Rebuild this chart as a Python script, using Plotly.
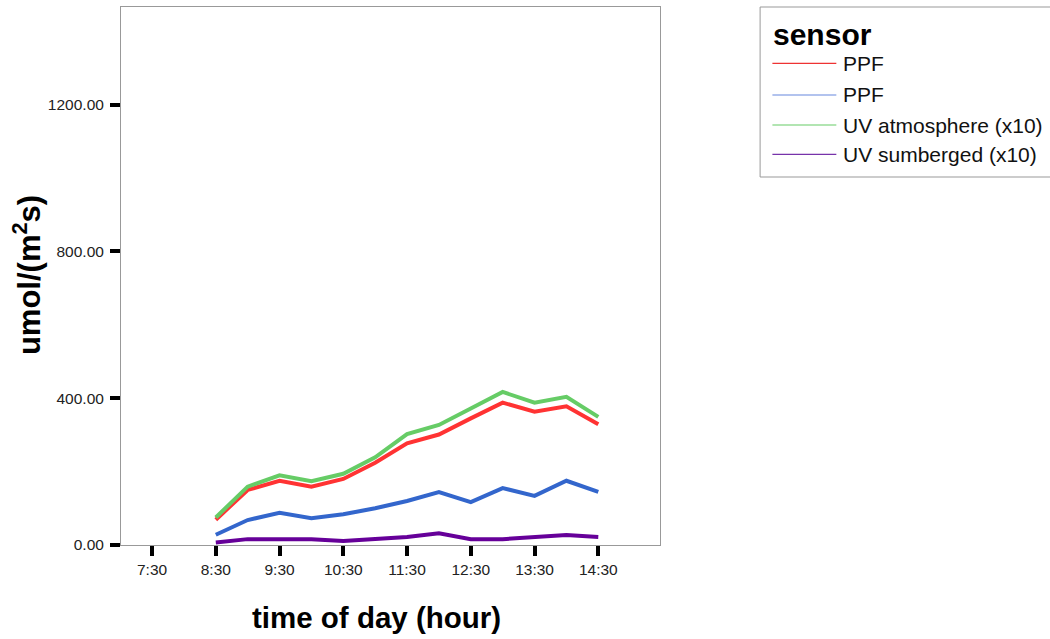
import plotly.graph_objects as go

# ---- data ----
times = ["8:30", "9:00", "9:30", "10:00", "10:30", "11:00", "11:30",
         "12:00", "12:30", "13:00", "13:30", "14:00", "14:30"]
ppf_atmosphere = [69, 150, 175, 159, 180, 224, 277, 301, 345, 388, 363, 378, 329]
ppf_submerged = [28, 68, 88, 73, 84, 100, 120, 144, 117, 155, 134, 175, 145]
uv_atmosphere = [75, 159, 190, 174, 194, 239, 302, 327, 372, 417, 388, 404, 349]
uv_submerged = [7, 16, 16, 16, 11, 16, 22, 32, 16, 16, 22, 27, 22]

series_names = ["PPF", "PPF", "UV atmosphere (x10)", "UV sumberged (x10)"]
series_values = [ppf_atmosphere, ppf_submerged, uv_atmosphere, uv_submerged]
series_colors = ["#ff3333", "#3366cc", "#66cc66", "#660099"]
legend_colors = ["#ee3333", "#6688dd", "#66cc66", "#7733aa"]

tick_hours = [7.5, 8.5, 9.5, 10.5, 11.5, 12.5, 13.5, 14.5]
tick_labels = ["7:30", "8:30", "9:30", "10:30", "11:30", "12:30", "13:30", "14:30"]
y_ticks = [0, 400, 800, 1200]


def to_hours(t):
    h, m = t.split(":")
    return int(h) + int(m) / 60.0


x_hours = [to_hours(t) for t in times]

FONT = "Liberation Sans, Arial, Helvetica, sans-serif"

fig = go.Figure()
for name, vals, col in zip(series_names, series_values, series_colors):
    fig.add_trace(go.Scatter(x=x_hours, y=vals, mode="lines", name=name,
                             line=dict(color=col, width=4), showlegend=False))

# plot-area pixel geometry (for manual legend placement)
L, R, T, B = 121, 660.5, 7, 545
W, H = R - L, B - T


def px(x):
    return (x - L) / W


def py(y):
    return (B - y) / H


shapes = [dict(type="rect", xref="paper", yref="paper",
               x0=px(760.7), x1=px(1070), y0=py(177), y1=py(7),
               line=dict(color="#999999", width=1), fillcolor="white", layer="above")]
annotations = [
    dict(text="<b>sensor</b>", xref="paper", yref="paper", x=px(772), y=py(35),
         xanchor="left", yanchor="middle", showarrow=False,
         font=dict(family=FONT, size=30, color="black")),
    dict(text="<b>time of day (hour)</b>", xref="paper", yref="paper",
         x=px(377), y=py(617), xanchor="center", yanchor="middle", showarrow=False,
         font=dict(family=FONT, size=29.5, color="black")),
    dict(text="<b>umol/(m<sup>2</sup>s)</b>", xref="paper", yref="paper",
         x=px(27), y=py(275), xanchor="center", yanchor="middle", showarrow=False,
         textangle=-90, font=dict(family=FONT, size=31, color="black")),
]
item_y = [63.3, 95, 125, 154.3]
for name, col, yy in zip(series_names, legend_colors, item_y):
    shapes.append(dict(type="line", xref="paper", yref="paper",
                       x0=px(773), x1=px(837), y0=py(yy), y1=py(yy),
                       line=dict(color=col, width=1.2), layer="above"))
    annotations.append(dict(text=name, xref="paper", yref="paper",
                            x=px(842), y=py(yy), xanchor="left", yanchor="middle",
                            showarrow=False,
                            font=dict(family=FONT, size=21, color="#111111")))

fig.update_layout(
    width=1050, height=639,
    margin=dict(l=L, r=1050 - R, t=T, b=639 - B, autoexpand=False),
    paper_bgcolor="white", plot_bgcolor="white",
    font=dict(family=FONT, color="#222222"),
    showlegend=False,
    shapes=shapes, annotations=annotations,
)
fig.update_xaxes(
    range=[7.013, 15.468], tickvals=tick_hours, ticktext=tick_labels,
    showgrid=False, zeroline=False,
    showline=True, linecolor="#999999", linewidth=1, mirror=True,
    ticks="outside", ticklen=10, tickwidth=4, tickcolor="black",
    tickfont=dict(family=FONT, size=15.5, color="#222222"),
)
fig.update_yaxes(
    range=[0, 1466], tickvals=y_ticks, tickformat=".2f",
    showgrid=False, zeroline=False,
    showline=True, linecolor="#999999", linewidth=1, mirror=True,
    ticks="outside", ticklen=10, tickwidth=4, tickcolor="black",
    ticklabelstandoff=3,
    tickfont=dict(family=FONT, size=15.5, color="#222222"),
)

fig.write_html("out.html",
               config={"displayModeBar": False},
               post_script="document.body.style.margin='0px';")
